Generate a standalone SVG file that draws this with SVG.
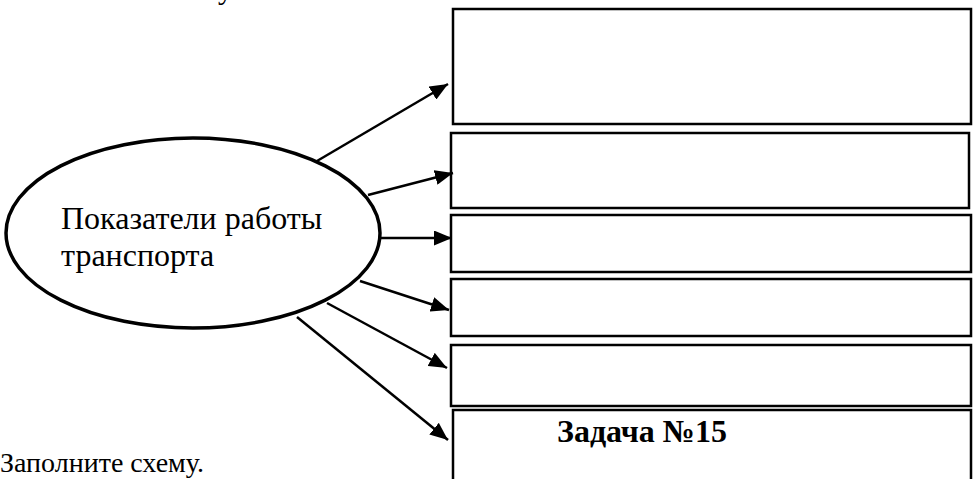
<svg xmlns="http://www.w3.org/2000/svg" width="973" height="479" viewBox="0 0 973 479">
  <style>
    .box { fill: #fff; stroke: #000; stroke-width: 2.5; }
    .conn { stroke: #000; stroke-width: 2.5; fill: none; marker-end: url(#arr); }
    .t { font-family: "Liberation Serif", "Times New Roman", serif; fill: #000; }
  </style>
  <defs>
    <marker id="arr" markerUnits="userSpaceOnUse" markerWidth="19" markerHeight="15" refX="18" refY="7.5" orient="auto">
      <path d="M0,0 L18,7.5 L0,15 z" fill="#000"/>
    </marker>
  </defs>
  <rect width="973" height="479" fill="#fff"/>
  <text class="t" x="218" y="-1" font-size="30">у</text>
  <g id="center">
    <ellipse cx="193" cy="233" rx="187" ry="95" fill="#fff" stroke="#000" stroke-width="3.5"/>
    <text class="t" x="61" y="229" font-size="32">Показатели работы</text>
    <text class="t" x="61" y="266" font-size="32">транспорта</text>
  </g>
  <g id="box1"><rect class="box" x="453" y="9" width="518" height="115"/></g>
  <g id="box2"><rect class="box" x="451" y="133" width="518" height="75"/></g>
  <g id="box3"><rect class="box" x="451" y="215" width="520" height="57"/></g>
  <g id="box4"><rect class="box" x="451" y="279" width="520" height="57"/></g>
  <g id="box5"><rect class="box" x="451" y="345" width="520" height="61"/></g>
  <g id="box6">
    <rect class="box" x="453" y="410" width="518" height="80"/>
    <text class="t" x="557" y="442" font-size="32" font-weight="bold">Задача №15</text>
  </g>
  <g id="connectors">
    <line class="conn" x1="317" y1="161" x2="448" y2="84"/>
    <line class="conn" x1="368" y1="195" x2="453" y2="173"/>
    <line class="conn" x1="380" y1="238" x2="452" y2="238"/>
    <line class="conn" x1="360" y1="281" x2="449" y2="310"/>
    <line class="conn" x1="327" y1="303" x2="447" y2="368"/>
    <line class="conn" x1="297" y1="317" x2="448" y2="440"/>
  </g>
  <text class="t" x="0" y="472" font-size="28">Заполните схему.</text>
</svg>
